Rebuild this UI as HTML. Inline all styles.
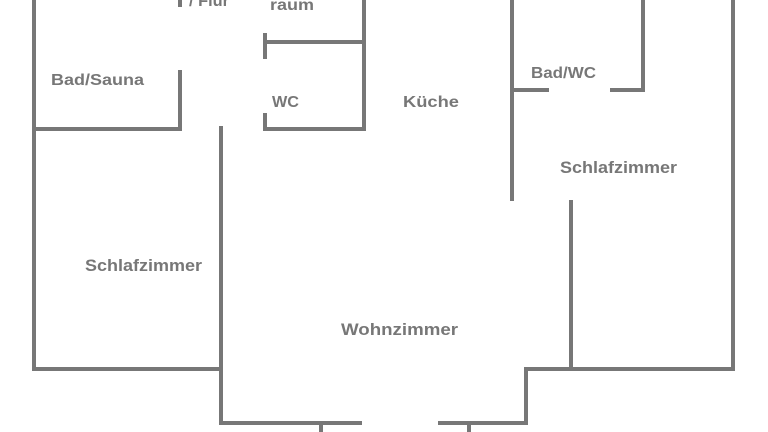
<!DOCTYPE html>
<html><head><meta charset="utf-8"><style>
html,body{margin:0;padding:0;background:#fff;width:768px;height:432px;overflow:hidden}
svg{display:block}
text{font-family:"Liberation Sans",sans-serif;font-weight:bold;fill:#777}
</style></head><body>
<svg width="768" height="432" viewBox="0 0 768 432">
<g stroke="#777" stroke-width="4" fill="none" stroke-linecap="square">
<line x1="34" y1="0" x2="34" y2="369"/>
<line x1="34" y1="129" x2="180" y2="129"/>
<line x1="180" y1="72" x2="180" y2="129"/>
<line x1="180" y1="0" x2="180" y2="5"/>
<line x1="221" y1="128" x2="221" y2="423"/>
<line x1="265" y1="35" x2="265" y2="57"/>
<line x1="265" y1="42" x2="364" y2="42"/>
<line x1="364" y1="0" x2="364" y2="129"/>
<line x1="265" y1="129" x2="364" y2="129"/>
<line x1="265" y1="115" x2="265" y2="129"/>
<line x1="512" y1="0" x2="512" y2="199"/>
<line x1="512" y1="90" x2="547" y2="90"/>
<line x1="612" y1="90" x2="643" y2="90"/>
<line x1="643" y1="0" x2="643" y2="90"/>
<line x1="733" y1="0" x2="733" y2="369"/>
<line x1="571" y1="202" x2="571" y2="369"/>
<line x1="526" y1="369" x2="733" y2="369"/>
<line x1="526" y1="369" x2="526" y2="423"/>
<line x1="34" y1="369" x2="221" y2="369"/>
<line x1="221" y1="423" x2="360" y2="423"/>
<line x1="440" y1="423" x2="526" y2="423"/>
<line x1="321" y1="423" x2="321" y2="434"/>
<line x1="469" y1="423" x2="469" y2="434"/>
</g>
<text x="189" y="6" font-size="16" textLength="40" lengthAdjust="spacingAndGlyphs">/ Flur</text>
<text x="270" y="10" font-size="16" textLength="44" lengthAdjust="spacingAndGlyphs">raum</text>
<text x="51" y="85" font-size="16" textLength="93" lengthAdjust="spacingAndGlyphs">Bad/Sauna</text>
<text x="272" y="107" font-size="16" textLength="27" lengthAdjust="spacingAndGlyphs">WC</text>
<text x="403" y="107" font-size="16" textLength="56" lengthAdjust="spacingAndGlyphs">Küche</text>
<text x="531" y="78" font-size="16" textLength="65" lengthAdjust="spacingAndGlyphs">Bad/WC</text>
<text x="560" y="173" font-size="17" textLength="117" lengthAdjust="spacingAndGlyphs">Schlafzimmer</text>
<text x="85" y="271" font-size="17" textLength="117" lengthAdjust="spacingAndGlyphs">Schlafzimmer</text>
<text x="341" y="335" font-size="17" textLength="117" lengthAdjust="spacingAndGlyphs">Wohnzimmer</text>
</svg>
</body></html>
